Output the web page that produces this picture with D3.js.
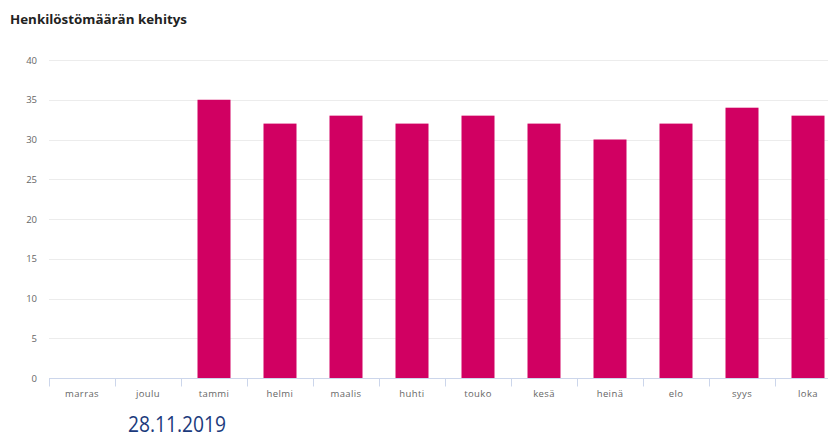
<!DOCTYPE html>
<html>
<head>
<meta charset="utf-8">
<script src="https://cdn.jsdelivr.net/npm/d3@7"></script>
<style>
  body { margin: 0; background: #fff; overflow: hidden; }
  svg { display: block; font-family: "Open Sans", "DejaVu Sans", sans-serif; }
</style>
</head>
<body>
<svg id="chart" width="828" height="437"></svg>
<script>
// months shown on the x axis
const months = ["marras", "joulu", "tammi", "helmi", "maalis", "huhti", "touko", "kesä", "heinä", "elo", "syys", "loka"];
// staff count per month (no data for the first two)
const staff = [null, null, 35, 32, 33, 32, 33, 32, 30, 32, 34, 33];
const yTicks = [0, 5, 10, 15, 20, 25, 30, 35, 40];

const svg = d3.select("#chart");
const margin = { top: 60, left: 49 };
const plotH = 318;
const bandW = 66;

const x = d3.scaleBand()
    .domain(months)
    .range([margin.left, margin.left + bandW * months.length])
    .paddingInner(0.5)
    .paddingOuter(0.25);

const y = d3.scaleLinear()
    .domain([0, 40])
    .range([margin.top + plotH, margin.top]);

svg.append("text")
    .attr("x", 10)
    .attr("y", 24)
    .attr("font-size", 13)
    .attr("font-weight", "bold")
    .attr("fill", "#222")
    .attr("textLength", 177)
    .attr("lengthAdjust", "spacingAndGlyphs")
    .text("Henkilöstömäärän kehitys");

// gridlines
svg.append("g")
    .selectAll("line")
    .data(yTicks.filter(d => d > 0))
    .enter().append("line")
    .attr("x1", margin.left)
    .attr("x2", 828)
    .attr("y1", d => Math.round(y(d)) + 0.5)
    .attr("y2", d => Math.round(y(d)) + 0.5)
    .attr("stroke", "#ececec");

// y axis labels
const yAxis = svg.append("g")
    .attr("transform", `translate(${margin.left - 12},0)`)
    .call(d3.axisLeft(y).tickValues(yTicks).tickSize(0).tickPadding(0));
yAxis.select(".domain").remove();
yAxis.selectAll("text")
    .attr("font-size", 9.5)
    .attr("fill", "#666")
    .attr("font-family", "\"Open Sans\", sans-serif");

// bars
svg.append("g")
    .selectAll("rect")
    .data(months.map((m, i) => ({ month: m, value: staff[i] })).filter(d => d.value != null))
    .enter().append("rect")
    .attr("x", d => x(d.month))
    .attr("y", d => y(d.value))
    .attr("width", x.bandwidth())
    .attr("height", d => y(0) - y(d.value))
    .attr("fill", "#d10062");

// x axis with ticks at band edges
const xAxisG = svg.append("g")
    .attr("transform", `translate(0,${Math.round(y(0)) + 0.5})`);
xAxisG.append("line")
    .attr("x1", margin.left)
    .attr("x2", 828)
    .attr("stroke", "#ccd6eb");
xAxisG.selectAll("line.tick")
    .data(months)
    .enter().append("line")
    .attr("class", "tick")
    .attr("x1", d => Math.round(x(d) - x.step() * 0.25) + 0.5)
    .attr("x2", d => Math.round(x(d) - x.step() * 0.25) + 0.5)
    .attr("y1", 0)
    .attr("y2", 8)
    .attr("stroke", "#ccd6eb");
xAxisG.selectAll("text")
    .data(months)
    .enter().append("text")
    .attr("x", d => x(d) + x.bandwidth() / 2)
    .attr("y", 18)
    .attr("text-anchor", "middle")
    .attr("font-size", 9.5)
    .attr("letter-spacing", 0.4)
    .attr("fill", "#666")
    .text(d => d);

svg.append("text")
    .attr("x", 128)
    .attr("y", 432)
    .attr("font-size", 22)
    .attr("fill", "#1b3a7c")
    .attr("textLength", 98)
    .attr("lengthAdjust", "spacingAndGlyphs")
    .text("28.11.2019");
</script>
</body>
</html>
